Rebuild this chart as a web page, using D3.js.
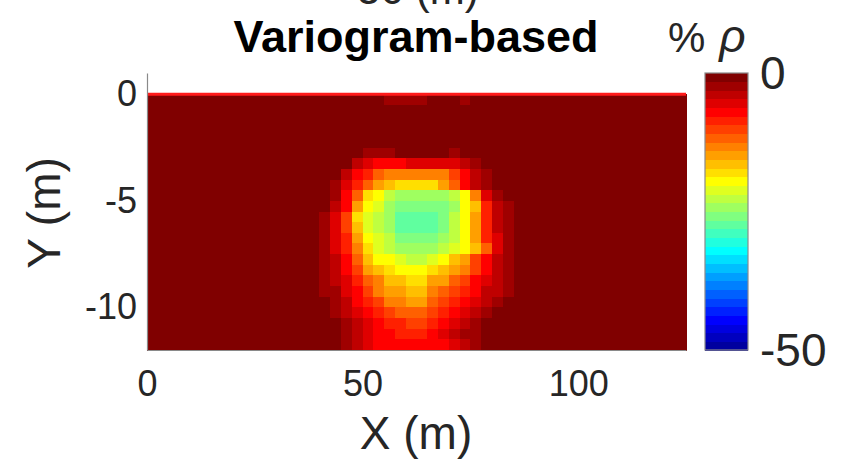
<!DOCTYPE html>
<html>
<head>
<meta charset="utf-8">
<script src="https://cdn.jsdelivr.net/npm/d3@7/dist/d3.min.js"></script>
<style>
  body { margin: 0; background: #fff; }
  text { font-family: "Liberation Sans", Arial, Helvetica, sans-serif; }
</style>
</head>
<body>
<div id="chart"></div>
<script>
// ticks
var xTicks = [0, 50, 100];
var yTicks = [-10, -5, 0];
var cbTicks = [-50, 0];

// mesh: 50 columns of 2.5 m, 24 layers of 0.5 m (0 to -12 m)
var nCols = 50, colWidth = 2.5;
var nRows = 24, rowDepth = 0.5;
// values (% rho) for columns 14..34, everything else is 0
var firstCol = 14;
var rhoRows = [
  [0,0,0,0,0,0,0,0,-2.3,-2.3,-2.3,-2.3,0,0,0,-2,0,0,0,0,0],
  [0,0,0,0,0,0,0,0,0,0,0,0,0,0,0,0,0,0,0,0,0],
  [0,0,0,0,0,0,0,0,0,0,0,0,0,0,0,0,0,0,0,0,0],
  [0,0,0,0,0,0,0,0,0,0,0,0,0,0,0,0,0,0,0,0,0],
  [0,0,0,0,0,0,0,0,0,0,0,0,0,0,0,0,0,0,0,0,0],
  [0,0,0,0,0,0,-2.3,-2.3,-2.3,0,0,0,0,0,-2.3,0,0,0,0,0,0],
  [0,0,0,0,0,-3.9,-5.5,-7,-7,-7,-5.5,-5.5,-5.5,-5.5,-5.5,-3.9,-2.3,0,0,0,0],
  [0,0,0,-1,-3.9,-7,-8.6,-11.7,-13.3,-13.3,-13.3,-13.3,-13.3,-13.3,-10.2,-7,-4.5,-2.3,0,0,0],
  [0,0,0,-2.3,-5.5,-8.6,-11.7,-14.8,-16.4,-18,-18,-18,-18,-14.8,-11.7,-7,-4.5,-2.3,0,0,0],
  [0,0,0,-2.3,-7,-11.7,-18,-19.5,-22.7,-24.2,-24.2,-24.2,-24.2,-24.2,-22.7,-19.5,-13.3,-5.5,-2.3,0,0],
  [0,0,-0.5,-3.9,-7,-14.8,-19.5,-21.1,-24.2,-25.8,-25.8,-25.8,-25.8,-25.8,-24.2,-20,-16.4,-8.6,-4.5,-2.3,0],
  [0,0,-2.3,-5.5,-10.2,-18,-21.1,-22.7,-24.2,-27.3,-27.3,-27.3,-27.3,-25.8,-22.7,-19.5,-14.8,-8.6,-4.5,-2.3,0],
  [0,0,-2.3,-5.5,-10.2,-16.4,-21.1,-22.7,-24.2,-27.3,-27.3,-27.3,-27.3,-25.8,-22.7,-19.5,-14.8,-8.6,-4.5,-2.3,0],
  [0,0,-2.3,-5.5,-8.6,-14.8,-19.5,-21.1,-22.7,-25.8,-25.8,-25.8,-25.8,-24.2,-22.7,-19.5,-14.8,-8.6,-5.5,-2.3,0],
  [0,0,-2.3,-5.5,-8.6,-13.3,-18,-21.1,-22.7,-24.2,-24.2,-24.2,-24.2,-22.7,-21.1,-19.5,-16.4,-11.7,-6,-2.3,0],
  [0,0,-2.3,-4.5,-7,-11.7,-16.4,-19.5,-20,-21.1,-22.7,-22.7,-21.1,-19.5,-17,-14.8,-10.2,-7,-4.5,-2.3,0],
  [0,0,-2.3,-3.9,-7,-10.2,-14.8,-17,-18,-19.5,-19.5,-19.5,-18,-16.4,-14.8,-13.3,-10.2,-7,-3.9,-2.3,0],
  [0,0,-2.3,-3.9,-5.5,-8.6,-11.7,-13.3,-16,-17,-18,-18,-14.8,-14.8,-11.7,-10.2,-7,-5.5,-3.9,-2.3,0],
  [0,0,-2.3,-2.3,-5.5,-7,-10.2,-13.3,-14.8,-14.8,-16.4,-16.4,-13.3,-11.7,-10.2,-8.6,-7,-4.5,-3.9,-2.3,0],
  [0,0,-1,-2.3,-3.9,-7,-8.6,-10.2,-13.3,-13.3,-14.8,-14.8,-11.7,-10.2,-8.6,-7,-5.5,-3.9,-2.3,0,0],
  [0,0,-1,-2.3,-3.9,-5.5,-7,-8.6,-10.2,-11.7,-11.7,-11.7,-10.2,-8.6,-7,-5.5,-3.9,-2.3,0,0,0],
  [0,0,0,-1,-3,-4.5,-5.5,-7,-8.6,-8.6,-10.2,-10.2,-8.6,-7,-5.5,-3.9,-2.3,-1,0,0,0],
  [0,0,0,0,-2.3,-3.9,-5.5,-7,-7,-8.6,-8.6,-8.6,-7,-5.5,-3.9,-3,-2.3,-1,0,0,0],
  [0,0,-0.8,-1.5,-2.3,-3.9,-5.5,-7,-7,-7.5,-7.5,-7.5,-7,-7,-5.5,-3.9,-2.3,-1.5,0,0,0]
];

var W = 851, H = 466;
var ink = "#262626";

// MATLAB-style jet(n)
function jet(n) {
  var m = Math.ceil(n / 4), u = [];
  for (var i = 1; i <= m; i++) u.push(i / m);
  for (var i = 1; i < m; i++) u.push(1);
  for (var i = m; i >= 1; i--) u.push(i / m);
  var off = Math.ceil(m / 2) - (n % 4 == 1 ? 1 : 0);
  var J = d3.range(n).map(function(){ return [0, 0, 0]; });
  u.forEach(function(val, k) {
    var g = off + k + 1, r = g + m, b = g - m;
    if (g <= n) J[g - 1][1] = val;
    if (r <= n) J[r - 1][0] = val;
    if (b >= 1) J[b - 1][2] = val;
  });
  return J.map(function(c){ return d3.rgb(c[0] * 255, c[1] * 255, c[2] * 255).toString(); });
}
var cmap = jet(32);
var cmin = -50, cmax = 0;
function colorOf(v) {
  var k = Math.floor((v - cmin) / (cmax - cmin) * cmap.length);
  return cmap[Math.max(0, Math.min(cmap.length - 1, k))];
}

var svg = d3.select("#chart").append("svg")
    .attr("width", W)
    .attr("height", H);

var x = d3.scaleLinear().domain([0, 125]).range([147, 686]);
var y = d3.scaleLinear().domain([-12, 1]).range([350, 73]);

// cells
var cells = [];
for (var r = 0; r < nRows; r++) {
  for (var c = 0; c < nCols; c++) {
    var k = c - firstCol;
    var v = (k >= 0 && k < rhoRows[r].length) ? rhoRows[r][k] : 0;
    cells.push({col: c, row: r, v: v});
  }
}
svg.append("g").selectAll("rect")
  .data(cells)
  .enter()
  .append("rect")
    .attr("x", function(d){ return x(d.col * colWidth); })
    .attr("y", function(d){ return y(-d.row * rowDepth); })
    .attr("width", function(d){ return x((d.col + 1) * colWidth) - x(d.col * colWidth) + 0.5; })
    .attr("height", function(d){ return y(-(d.row + 1) * rowDepth) - y(-d.row * rowDepth) + 0.5; })
    .attr("fill", function(d){ return colorOf(d.v); })
    .attr("shape-rendering", "crispEdges");

// surface line
svg.append("line")
  .attr("x1", x(0)).attr("x2", x(125))
  .attr("y1", y(0)).attr("y2", y(0))
  .attr("stroke", "#ff1a1a")
  .attr("stroke-width", 3);

// axes
var yAxis = svg.append("g")
  .attr("transform", "translate(" + x(0) + ",0)")
  .call(d3.axisLeft(y).tickValues(yTicks).tickSize(0).tickPadding(10)
    .tickFormat(function(d){ return String(d); }));
var xAxis = svg.append("g")
  .attr("transform", "translate(0," + y(-12) + ")")
  .call(d3.axisBottom(x).tickValues(xTicks).tickSize(0).tickPadding(20));
[xAxis, yAxis].forEach(function(a){
  a.select(".domain").attr("stroke", "#8a8a8a").attr("stroke-width", 1.2);
  a.selectAll("text").attr("fill", ink).style("font-size", "36px");
});

svg.append("text")
  .attr("x", 416).attr("y", 449)
  .attr("text-anchor", "middle")
  .attr("fill", ink)
  .style("font-size", "46px")
  .text("X (m)");

svg.append("text")
  .attr("transform", "translate(60,213) rotate(-90)")
  .attr("text-anchor", "middle")
  .attr("fill", ink)
  .style("font-size", "46px")
  .text("Y (m)");

// title, and the bottom of the label from the panel above
svg.append("text")
  .attr("x", 416).attr("y", 52)
  .attr("text-anchor", "middle")
  .attr("fill", "#000")
  .style("font-size", "45px")
  .style("font-weight", "bold")
  .text("Variogram-based");

svg.append("text")
  .attr("x", 418).attr("y", 4)
  .attr("text-anchor", "middle")
  .attr("fill", ink)
  .style("font-size", "42px")
  .text("50 (m)");

// colorbar
var cb = d3.scaleLinear().domain([cmin, cmax]).range([350, 73]);
var bands = d3.range(cmap.length);
var step = (cmax - cmin) / cmap.length;
svg.append("g").selectAll("rect")
  .data(bands)
  .enter()
  .append("rect")
    .attr("x", 705)
    .attr("width", 43)
    .attr("y", function(k){ return cb(cmin + (k + 1) * step); })
    .attr("height", function(k){ return cb(cmin + k * step) - cb(cmin + (k + 1) * step) + 0.5; })
    .attr("fill", function(k){ return cmap[k]; })
    .attr("shape-rendering", "crispEdges");
svg.append("rect")
  .attr("x", 705).attr("y", cb(cmax))
  .attr("width", 43).attr("height", cb(cmin) - cb(cmax))
  .attr("fill", "none")
  .attr("stroke", "#8a8a8a")
  .attr("stroke-width", 1.2);

svg.append("g").selectAll("text")
  .data(cbTicks)
  .enter()
  .append("text")
    .attr("x", 760)
    .attr("y", function(d){ return cb(d); })
    .attr("dy", "0.35em")
    .attr("fill", ink)
    .style("font-size", "46px")
    .text(function(d){ return d; });

var unit = svg.append("text")
  .attr("x", 668).attr("y", 52)
  .attr("fill", ink)
  .style("font-size", "42px");
unit.append("tspan").text("%");
unit.append("tspan").attr("dx", 14).style("font-style", "italic").style("font-size", "46px").text("\u03c1");
</script>
</body>
</html>
